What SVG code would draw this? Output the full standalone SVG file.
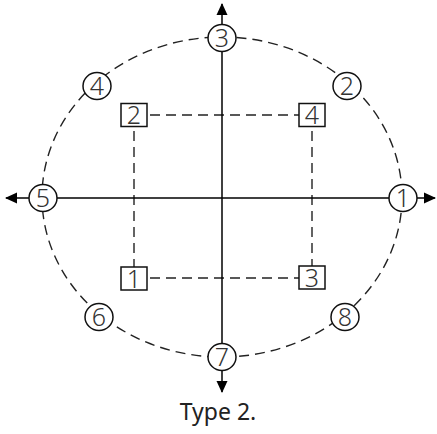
<svg xmlns="http://www.w3.org/2000/svg" width="437" height="434" viewBox="0 0 437 434">
  <defs>
    <marker id="arrow" viewBox="0 0 12 12" refX="11" refY="6" markerWidth="12" markerHeight="12" markerUnits="userSpaceOnUse" orient="auto">
      <path d="M0,0.5 L12,6 L0,11.5 Z" fill="#000"/>
    </marker>
    <style>
      .dash { fill: none; stroke: #222; stroke-width: 1.4; stroke-dasharray: 10 6; }
      .axis { fill: none; stroke: #000; stroke-width: 1.5; }
      .ring { fill: #fff; stroke: #111; stroke-width: 1.5; }
      .box { fill: #fff; stroke: #111; stroke-width: 1.5; }
      .num { font-family: "Noto Sans", "DejaVu Sans", sans-serif; font-size: 25px; font-weight: 300; fill: #333; text-anchor: middle; }
      .cap { font-family: "Noto Sans", "DejaVu Sans", sans-serif; font-size: 23px; fill: #222; text-anchor: middle; }
    </style>
  </defs>
  <rect width="437" height="434" fill="#fff"/>

  <g id="connectors">
    <!-- outer dashed ring -->
    <ellipse class="dash" cx="222" cy="197" rx="180" ry="160"/>
    <!-- inner dashed rectangle -->
    <path class="dash" d="M134,115 H312 M134,278 H312 M134,115 V278 M312,115 V278"/>
    <!-- axes with arrowheads -->
    <line class="axis" x1="222" y1="357" x2="222" y2="4" marker-end="url(#arrow)"/>
    <line class="axis" x1="222" y1="357" x2="222" y2="392" marker-end="url(#arrow)"/>
    <line class="axis" x1="403" y1="198" x2="6" y2="198" marker-end="url(#arrow)"/>
    <line class="axis" x1="403" y1="198" x2="435" y2="198" marker-end="url(#arrow)"/>
  </g>

  <g id="p1"><ellipse class="ring" cx="403" cy="198" rx="14" ry="13.5"/><text class="num" x="403" y="207">1</text></g>
  <g id="p2"><ellipse class="ring" cx="347" cy="86" rx="14" ry="13.5"/><text class="num" x="347" y="95">2</text></g>
  <g id="p3"><ellipse class="ring" cx="222" cy="38" rx="14" ry="13.5"/><text class="num" x="222" y="47">3</text></g>
  <g id="p4"><ellipse class="ring" cx="97" cy="86" rx="14" ry="13.5"/><text class="num" x="97" y="95">4</text></g>
  <g id="p5"><ellipse class="ring" cx="43" cy="198" rx="14" ry="13.5"/><text class="num" x="43" y="207">5</text></g>
  <g id="p6"><ellipse class="ring" cx="99" cy="317" rx="14" ry="13.5"/><text class="num" x="99" y="326">6</text></g>
  <g id="p7"><ellipse class="ring" cx="222" cy="357" rx="14" ry="13.5"/><text class="num" x="222" y="366">7</text></g>
  <g id="p8"><ellipse class="ring" cx="345" cy="317" rx="14" ry="13.5"/><text class="num" x="345" y="326">8</text></g>

  <g id="s2"><rect class="box" x="121" y="103.5" width="26" height="23"/><text class="num" x="134" y="124">2</text></g>
  <g id="s4"><rect class="box" x="299" y="103.5" width="26" height="23"/><text class="num" x="312" y="124">4</text></g>
  <g id="s1"><rect class="box" x="121" y="267" width="26" height="23"/><text class="num" x="134" y="287.5">1</text></g>
  <g id="s3"><rect class="box" x="299" y="266" width="26" height="23"/><text class="num" x="312" y="286.5">3</text></g>

  <text class="cap" x="218" y="420">Type 2.</text>
</svg>
